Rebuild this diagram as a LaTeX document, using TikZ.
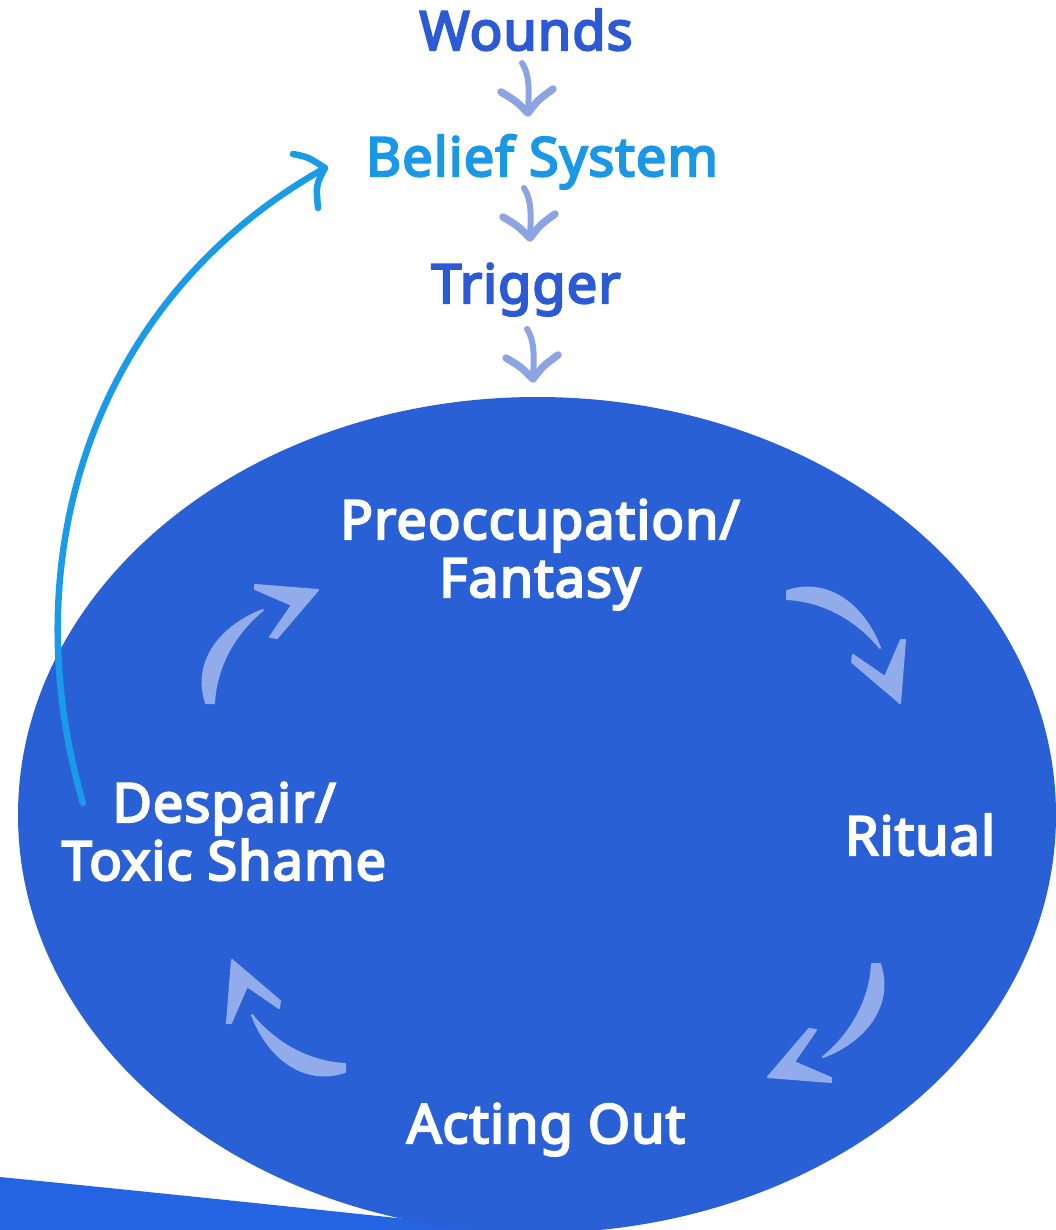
\documentclass[tikz,border=0pt]{standalone}
\usepackage{fontspec}
\newfontfamily\lblfont{Noto Sans}[FakeBold=4, LetterSpace=2]
\usetikzlibrary{calc}
\definecolor{ellblue}{RGB}{42,96,214}
\definecolor{wedgeblue}{RGB}{36,99,226}
\definecolor{txtdark}{RGB}{44,90,212}
\definecolor{txtcyan}{RGB}{26,152,230}
\definecolor{cyanarr}{RGB}{26,155,232}
\definecolor{lightarr}{RGB}{146,172,235}
\definecolor{toparr}{RGB}{140,165,226}
\tikzset{
  lbl/.style={inner sep=0pt, font=\lblfont\fontsize{54}{58}\selectfont},
  cyc/.pic={
    \fill[lightarr, draw=lightarr, line width=2pt, line join=round]
      (-113,-112) .. controls (-70,-126) and (-35,-95) .. (-20,-55)
      .. controls (-42,-82) and (-75,-102) .. (-113,-104) -- cycle;
    \fill[lightarr, draw=lightarr, line width=2pt, line join=round]
      (0,0) -- (-48,-41) -- (-47,-48) -- (-15,-26) -- (1,-63) -- (5,-63) -- cycle;
  },
  dn/.pic={
    \draw[toparr, line width=6pt, line cap=round] (-6,-50) .. controls (2,-38) and (1,-20) .. (0,-3);
    \draw[toparr, line width=7.5pt, line cap=round, line join=round]
      (-27,-21) .. controls (-12,-12) .. (0,0) .. controls (10,-13) .. (25,-24);
  }
}
\begin{document}
\begin{tikzpicture}[x=1pt,y=-1pt]
\useasboundingbox (0,0) rectangle (1056,1230);
\clip (0,0) rectangle (1056,1230);
\fill[white] (0,0) rectangle (1056,1230);
% bottom-left band
\fill[wedgeblue] (0,1177) .. controls (200,1197) and (400,1218) .. (600,1240) -- (0,1240) -- cycle;
% cycle ellipse
\fill[ellblue] (537,815) ellipse [x radius=519pt, y radius=418pt];
% top chain
\node[lbl, text=txtdark, anchor=base] (wounds) at (526,50) {Wounds};
\node[lbl, text=txtcyan, anchor=base] (belief) at (542,176) {Belief System};
\node[lbl, text=txtdark, anchor=base] (trigger) at (526,303) {Trigger};
\pic at (528,113) {dn};
\pic at (530,238) {dn};
\pic at (533,379) {dn};
% cycle labels (base = last line)
\node[lbl, text=white, align=center, anchor=base] (preocc) at (540,597) {Preoccupation/\\Fantasy};
\node[lbl, text=white, align=center, anchor=base] (despair) at (224,880) {Despair/\\Toxic Shame};
\node[lbl, text=white, anchor=base] (ritual) at (920,855) {Ritual};
\node[lbl, text=white, anchor=base] (acting) at (546,1143) {Acting Out};
% cycle arrows
\pic[rotate=90] at (318,590) {cyc};
\pic at (900,703) {cyc};
\pic[rotate=-90] at (768,1077) {cyc};
\pic[rotate=180] at (232,960) {cyc};
% return arrow
\coordinate (cs) at (83,803);
\coordinate (ce) at (325,168);
\draw[cyanarr, line width=6.5pt, line cap=round] (cs) .. controls (12,560) and (90,300) .. (ce);
\draw[cyanarr, line width=6.5pt, line cap=round, line join=round]
  (293,154) .. controls (308,157) .. (ce) .. controls (316,185) .. (318,208);
\end{tikzpicture}
\end{document}
